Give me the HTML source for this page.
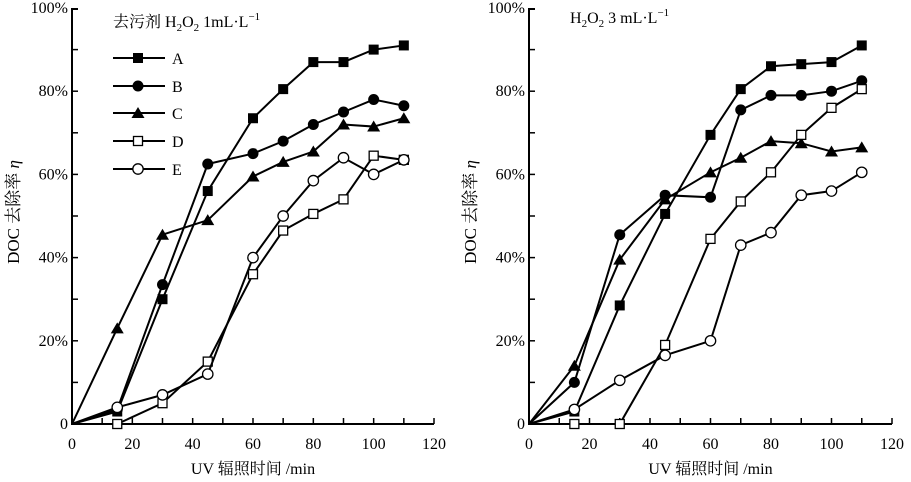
<!DOCTYPE html>
<html><head><meta charset="utf-8"><style>
html,body{margin:0;padding:0;background:#fff;}
svg{display:block;font-family:"Liberation Serif","Noto Serif CJK SC",serif;}
</style></head><body>
<svg id="s" width="911" height="482" viewBox="0 0 911 482" xmlns="http://www.w3.org/2000/svg"></svg>
<script>
const S=document.getElementById('s');let h='';
function chart(x0,x1,y0,y1,data,title,legend){
  const sx=v=>x0+(x1-x0)*v/120, sy=v=>y1-(y1-y0)*v/100;
  h+=`<path d="M${x0} ${y0}V${y1}H${x1}" fill="none" stroke="#000" stroke-width="2"/>`;
  for(let i=1;i<10;i++){h+=`<line x1="${x0}" x2="${x0+6}" y1="${sy(i*10)}" y2="${sy(i*10)}" stroke="#000" stroke-width="1.5"/>`;}
  h+=`<line x1="${x0}" x2="${x0+6}" y1="${y0+1}" y2="${y0+1}" stroke="#000" stroke-width="2"/>`;
  for(let i=1;i<=12;i++){h+=`<line x1="${sx(i*10)}" x2="${sx(i*10)}" y1="${y1}" y2="${y1-6}" stroke="#000" stroke-width="1.5"/>`;}
  for(let i=0;i<=5;i++){h+=`<text x="${x0-4}" y="${sy(i*20)+5}" font-size="16" text-anchor="end">${i?i*20+'%':'0'}</text>`;}
  for(let i=0;i<=6;i++){h+=`<text x="${sx(i*20)}" y="449" font-size="16" text-anchor="middle">${i*20}</text>`;}
  h+=`<text x="${(x0+x1)/2}" y="474" font-size="16" text-anchor="middle">UV 辐照时间 /min</text>`;
  h+=`<text transform="translate(${x0-53},${(y0+y1)/2-4}) rotate(-90)" font-size="17" text-anchor="middle">DOC 去除率 <tspan font-style="italic">η</tspan></text>`;
  h+=title;
  const xs=[0,15,30,45,60,70,80,90,100,110];
  data.forEach((d,k)=>{
    h+=`<polyline points="${d.map((v,i)=>sx(xs[i])+','+sy(v)).join(' ')}" fill="none" stroke="#000" stroke-width="2"/>`;
    d.forEach((v,i)=>{if(i>0)h+=mk(k,sx(xs[i]),sy(v));});
  });
  if(legend){const ly=[58,86,113,141,169],L='ABCDE';
    for(let k=0;k<5;k++){h+=`<line x1="113" x2="165" y1="${ly[k]}" y2="${ly[k]}" stroke="#000" stroke-width="2"/>`+mk(k,138,ly[k])+`<text x="172" y="${ly[k]+6}" font-size="16">${L[k]}</text>`;}}
}
function mk(k,x,y){
  if(k==0)return `<rect x="${x-5}" y="${y-5}" width="10" height="10" fill="#000"/>`;
  if(k==1)return `<circle cx="${x}" cy="${y}" r="5.5" fill="#000"/>`;
  if(k==2)return `<path d="M${x} ${y-6}L${x+6.5} ${y+5}L${x-6.5} ${y+5}Z" fill="#000"/>`;
  if(k==3)return `<rect x="${x-4.5}" y="${y-4.5}" width="9" height="9" fill="#fff" stroke="#000" stroke-width="1.3"/>`;
  return `<circle cx="${x}" cy="${y}" r="5.2" fill="#fff" stroke="#000" stroke-width="1.3"/>`;
}
chart(72,434,8,424,[
[0,3,30,56,73.5,80.5,87,87,90,91],
[0,3.5,33.5,62.5,65,68,72,75,78,76.5],
[0,23,45.5,49,59.5,63,65.5,72,71.5,73.5],
[0,0,5,15,36,46.5,50.5,54,64.5,63.5],
[0,4,7,12,40,50,58.5,64,60,63.5]],
`<text x="113" y="27" font-size="16">去污剂 H<tspan font-size="11" dy="4">2</tspan><tspan dy="-4">O</tspan><tspan font-size="11" dy="4">2</tspan><tspan dy="-4"> 1mL·L</tspan><tspan font-size="11" dy="-7">−1</tspan></text>`,true);
chart(529,892,8,424,[
[0,3,28.5,50.5,69.5,80.5,86,86.5,87,91],
[0,10,45.5,55,54.5,75.5,79,79,80,82.5],
[0,14,39.5,54,60.5,64,68,67.5,65.5,66.5],
[0,0,0,19,44.5,53.5,60.5,69.5,76,80.5],
[0,3.5,10.5,16.5,20,43,46,55,56,60.5]],
`<text x="570" y="23" font-size="16">H<tspan font-size="11" dy="4">2</tspan><tspan dy="-4">O</tspan><tspan font-size="11" dy="4">2</tspan><tspan dy="-4"> 3 mL·L</tspan><tspan font-size="11" dy="-7">−1</tspan></text>`,false);
S.innerHTML=h;
</script>
</body></html>
